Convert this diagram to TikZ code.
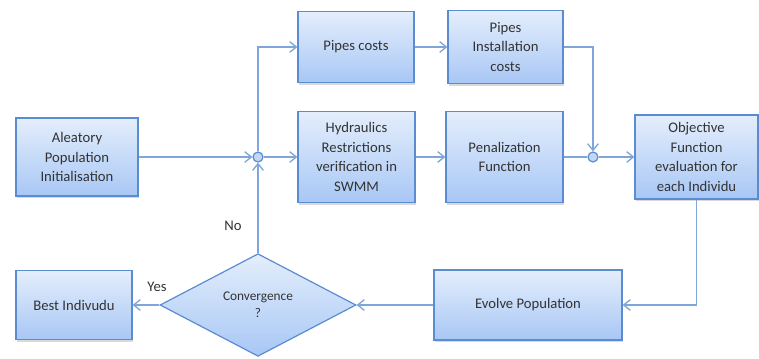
\documentclass[tikz,border=0pt]{standalone}
\usepackage{fontspec}
\setmainfont{Carlito}
\usetikzlibrary{shapes.geometric,shadows,arrows.meta}
\definecolor{boxline}{HTML}{5B8BD0}
\definecolor{boxtop}{HTML}{E4EEFC}
\definecolor{boxbot}{HTML}{A8C7F5}
\definecolor{flowline}{HTML}{7EA6D9}
\definecolor{txt}{HTML}{333333}

\begin{document}
\begin{tikzpicture}
[x=0.75pt,y=-0.75pt,
 every node/.style={font=\fontsize{11}{14.6}\selectfont,text=txt},
 block/.style={rectangle,draw=boxline,line width=0.9pt,top color=boxtop,bottom color=boxbot,
   align=center,inner sep=2pt,drop shadow={shadow xshift=1pt,shadow yshift=-1.5pt,opacity=0.3}},
 decision/.style={diamond,draw=boxline,line width=0.9pt,top color=boxtop,bottom color=boxbot,
   align=center,inner sep=0pt,minimum width=147pt,minimum height=77pt,aspect=1.9,
   font=\fontsize{10}{12.8}\selectfont},
 junction/.style={circle,draw=boxline,line width=0.9pt,fill=boxtop!40!boxbot,minimum size=7.5pt,inner sep=0pt},
 flow/.style={draw=flowline,line width=1pt,-{Straight Barb[length=5pt,width=8pt]}},
 plain/.style={draw=flowline,line width=1pt}]
  \useasboundingbox (0,0) rectangle (759,358);
  % boxes
  \node[block,minimum width=91.5pt,minimum height=58.5pt] (aleat) at (77,157) {Aleatory\\Population\\Initialisation};
  \node[block,minimum width=87pt,minimum height=53.25pt] (pcost) at (356,47) {Pipes costs};
  \node[block,minimum width=86.25pt,minimum height=54.75pt] (pinst) at (505.5,47) {Pipes\\Installation\\costs};
  \node[block,minimum width=87.75pt,minimum height=68.25pt] (hydr) at (356.5,157) {Hydraulics\\Restrictions\\verification in\\SWMM};
  \node[block,minimum width=87.75pt,minimum height=68.25pt] (penal) at (504.5,157) {Penalization\\Function};
  \node[block,minimum width=92.25pt,minimum height=63pt] (objf) at (696.5,157) {Objective\\Function\\evaluation for\\each Individu};
  \node[block,minimum width=141pt,minimum height=52.5pt] (evolve) at (528,305) {Evolve Population};
  \node[block,minimum width=87pt,minimum height=51.75pt] (best) at (74,305) {Best Indivudu};
  \node[decision] (conv) at (258,305) {Convergence\\?};
  % junctions
  \node[junction] (j1) at (258,157) {};
  \node[junction] (j2) at (593,157) {};
  % labels
  \node (no) at (233,226) {No};
  \node (yes) at (157,287) {Yes};
  % connectors
  \draw[flow] (aleat) -- (j1);
  \draw[flow] (j1) |- (pcost);
  \draw[flow] (j1) -- (hydr);
  \draw[flow] (pcost) -- (pinst);
  \draw[flow] (hydr) -- (penal);
  \draw[plain] (penal) -- (j2);
  \draw[flow] (pinst) -| (j2);
  \draw[flow] (j2) -- (objf);
  \draw[flow] (objf.south) |- (evolve);
  \draw[flow] (evolve) -- (conv);
  \draw[flow] (conv) -- (best);
  \draw[flow] (conv) -- (j1);
\end{tikzpicture}
\end{document}
